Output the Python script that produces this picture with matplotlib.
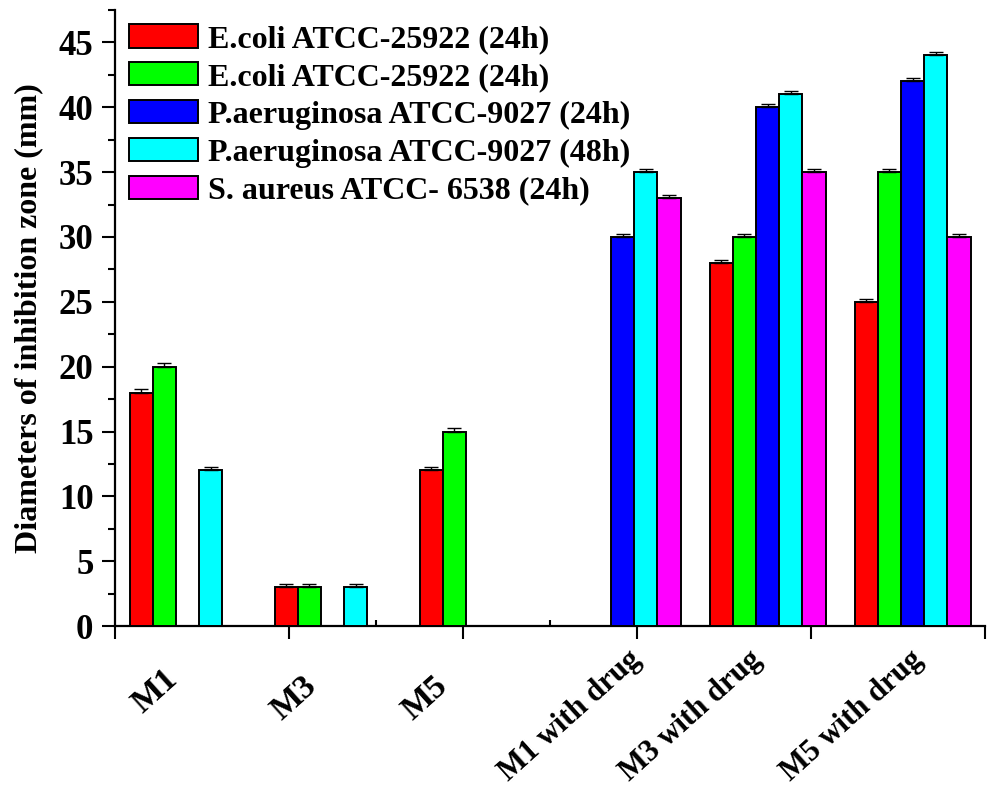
import numpy as np
import matplotlib
matplotlib.use("Agg")
import matplotlib.pyplot as plt
import matplotlib.transforms as mtransforms
from matplotlib.ticker import MultipleLocator

# Data (nan = no bar)
groups = ["M1", "M3", "M5", "M1 with drug", "M3 with drug", "M5 with drug"]
series = [
    "E.coli ATCC-25922 (24h)",
    "E.coli ATCC-25922 (24h)",
    "P.aeruginosa ATCC-9027 (24h)",
    "P.aeruginosa ATCC-9027 (48h)",
    "S. aureus ATCC- 6538 (24h)",
]
ecoli_a = [18, 3, 12, np.nan, 28, 25]
ecoli_b = [20, 3, 15, np.nan, 30, 35]
paer_24 = [np.nan, np.nan, np.nan, 30, 40, 42]
paer_48 = [12, 3, np.nan, 35, 41, 44]
saureus = [np.nan, np.nan, np.nan, 33, 35, 30]
err = 0.25

colors = ["#ff0000", "#00ff00", "#0000ff", "#00ffff", "#ff00ff"]

# hand-placed category labels (x in group units, y in axes fraction, size)
label_x = [0.40, 1.36, 2.26, 3.60, 4.43, 5.545]
label_y = [-0.079, -0.090, -0.090, -0.048, -0.048, -0.048]
label_size = [24.5, 24.5, 24.5, 22, 22, 22]

plt.rcParams["font.family"] = ["Liberation Serif", "DejaVu Serif"]
plt.rcParams["font.weight"] = "bold"

fig = plt.figure(figsize=(9.89, 7.85), dpi=100)
ax = fig.add_axes([0.1163, 0.2025, 0.8797, 0.7847])

values = [ecoli_a, ecoli_b, paer_24, paer_48, saureus]
n = len(series)
width = 0.16
centers = np.arange(len(groups)) + 0.5

for i, (vals, name) in enumerate(zip(values, series)):
    vals = np.array(vals, dtype=float)
    x = centers + (i - (n - 1) / 2) * width
    ax.bar(x, vals, width, color=colors[i], edgecolor="black",
           linewidth=1.4, label=name, zorder=3)
    ok = ~np.isnan(vals)
    ax.errorbar(x[ok], vals[ok], yerr=[np.zeros(ok.sum()), np.full(ok.sum(), err)],
                fmt="none", ecolor="black", elinewidth=1, capsize=4.8,
                capthick=1, zorder=4)

ax.set_xlim(0, 6)
ax.set_ylim(0, 47.5)

ax.spines["top"].set_visible(False)
ax.spines["right"].set_visible(False)
for s in ["left", "bottom"]:
    ax.spines[s].set_linewidth(1.6)

ax.yaxis.set_major_locator(MultipleLocator(5))
ax.yaxis.set_minor_locator(MultipleLocator(2.5))
ax.tick_params(axis="y", which="major", direction="out", length=9.5,
               width=1.5, labelsize=25, pad=6)
ax.tick_params(axis="y", which="minor", direction="out", length=5, width=1.5)

ax.set_xticks(np.arange(0, 6.01, 1.2))
ax.set_xticks(np.arange(0.6, 6, 1.2), minor=True)
ax.set_xticklabels([])
ax.tick_params(axis="x", which="major", direction="out", length=9, width=1.5)
ax.tick_params(axis="x", which="minor", direction="in", length=4.5, width=1.5)

trans = mtransforms.blended_transform_factory(ax.transData, ax.transAxes)
for g, lx, ly, fs in zip(groups, label_x, label_y, label_size):
    ax.text(lx, ly, g, transform=trans, rotation=42, rotation_mode="anchor",
            ha="right", va="center", fontsize=fs, fontweight="bold")

ax.set_ylabel("Diameters of inhibition zone (mm)", fontsize=23, fontweight="bold")
ax.yaxis.set_label_coords(-0.082, 0.5)

ax.legend(loc="upper left", bbox_to_anchor=(0.016, 0.977), frameon=False,
          fontsize=23, handlelength=2.15, handleheight=0.75, handletextpad=0.32,
          labelspacing=0.25, borderpad=0, borderaxespad=0)

fig.savefig("out.png", dpi=100)
